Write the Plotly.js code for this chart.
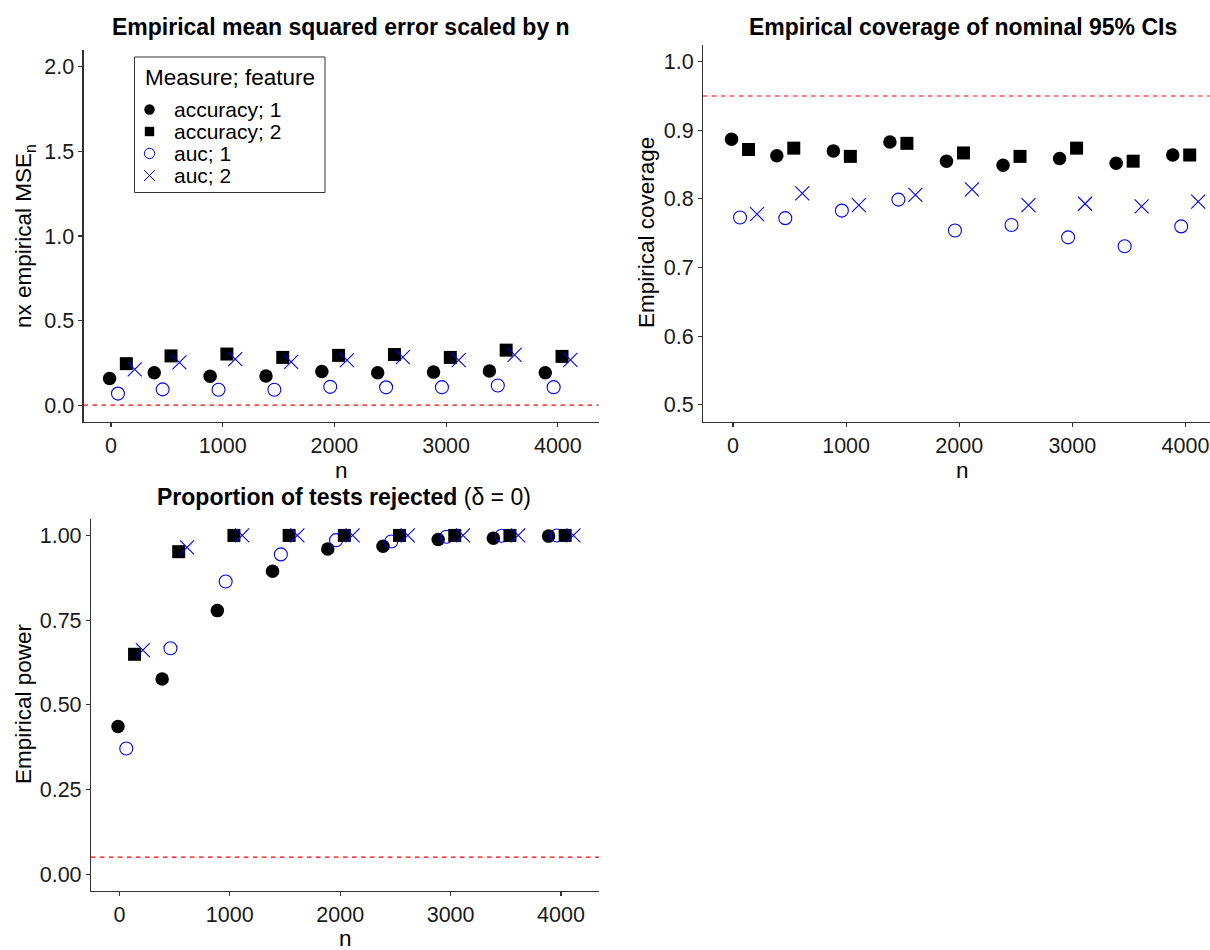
<!DOCTYPE html>
<html>
<head>
<meta charset="utf-8">
<script src="https://cdn.plot.ly/plotly-3.0.1.min.js"></script>
<style>
  html, body { margin: 0; padding: 0; background: #ffffff; }
  #chart { width: 1210px; height: 950px; }
</style>
</head>
<body>
<div id="chart"></div>
<script>
// ---- data -------------------------------------------------------------
const sampleSizes = [100, 500, 1000, 1500, 2000, 2500, 3000, 3500, 4000];
const seriesNames = ['accuracy; 1', 'accuracy; 2', 'auc; 1', 'auc; 2'];

// n x empirical MSE
const mseAccuracy1 = [0.157, 0.191, 0.171, 0.172, 0.199, 0.191, 0.195, 0.201, 0.191];
const mseAccuracy2 = [0.245, 0.291, 0.302, 0.282, 0.294, 0.299, 0.282, 0.325, 0.288];
const mseAuc1      = [0.068, 0.093, 0.091, 0.091, 0.108, 0.105, 0.106, 0.116, 0.106];
const mseAuc2      = [0.211, 0.253, 0.272, 0.256, 0.266, 0.284, 0.266, 0.297, 0.268];

// empirical coverage of nominal 95% CIs
const covAccuracy1 = [0.887, 0.863, 0.870, 0.883, 0.855, 0.849, 0.859, 0.852, 0.864];
const covAccuracy2 = [0.872, 0.874, 0.862, 0.881, 0.867, 0.862, 0.874, 0.855, 0.864];
const covAuc1      = [0.773, 0.772, 0.783, 0.799, 0.754, 0.762, 0.744, 0.731, 0.760];
const covAuc2      = [0.778, 0.808, 0.791, 0.806, 0.814, 0.791, 0.793, 0.789, 0.796];

// proportion of tests rejected
const powAccuracy1 = [0.436, 0.576, 0.778, 0.894, 0.960, 0.968, 0.988, 0.992, 0.998];
const powAccuracy2 = [0.649, 0.952, 1.000, 1.000, 1.000, 1.000, 1.000, 1.000, 1.000];
const powAuc1      = [0.371, 0.667, 0.864, 0.944, 0.986, 0.982, 0.996, 0.999, 1.000];
const powAuc2      = [0.661, 0.965, 1.000, 1.000, 1.000, 1.000, 1.000, 1.000, 1.000];

// horizontal reference lines (true value, nominal coverage, nominal level)
const referenceLines = [0, 0.95, 0.05];

const panelTitles = [
  '<b>Empirical mean squared error scaled by n</b>',
  '<b>Empirical coverage of nominal 95% CIs</b>',
  '<b>Proportion of tests rejected</b> (δ = 0)'
];
const yTitles = ['nx empirical MSE<sub>n</sub>', 'Empirical coverage', 'Empirical power'];
const xTitle = 'n';
const legendTitle = 'Measure; feature';

// ---- styling ----------------------------------------------------------
const W = 1210, H = 950;
const FONT = 'Liberation Sans, Arial, Helvetica, sans-serif';
const px = p => p / W;          // pixel -> paper x
const py = p => 1 - p / H;      // pixel -> paper y

// per-series look, in dodge order (feature 1 then 2; accuracy then auc)
const seriesStyle = {
  'accuracy; 1': { symbol: 'circle',       color: '#000000', size: 13.5, lw: 0,   dodge: -112.5 },
  'auc; 1':      { symbol: 'circle-open',  color: '#0000ff', size: 13,   lw: 1.1, dodge: -37.5 },
  'accuracy; 2': { symbol: 'square',       color: '#000000', size: 13,   lw: 0,   dodge: 37.5 },
  'auc; 2':      { symbol: 'x-thin-open',  color: '#0000ff', size: 14,   lw: 1.1, dodge: 112.5 }
};
const drawOrder = ['accuracy; 1', 'auc; 1', 'accuracy; 2', 'auc; 2'];

const panels = [
  { xa: 'x',  ya: 'y',  values: { 'accuracy; 1': mseAccuracy1, 'accuracy; 2': mseAccuracy2, 'auc; 1': mseAuc1, 'auc; 2': mseAuc2 } },
  { xa: 'x2', ya: 'y2', values: { 'accuracy; 1': covAccuracy1, 'accuracy; 2': covAccuracy2, 'auc; 1': covAuc1, 'auc; 2': covAuc2 } },
  { xa: 'x3', ya: 'y3', values: { 'accuracy; 1': powAccuracy1, 'accuracy; 2': powAccuracy2, 'auc; 1': powAuc1, 'auc; 2': powAuc2 } }
];

// ---- traces -----------------------------------------------------------
const traces = [];
panels.forEach(panel => {
  drawOrder.forEach(name => {
    const st = seriesStyle[name];
    traces.push({
      type: 'scatter',
      mode: 'markers',
      name: name,
      showlegend: false,
      xaxis: panel.xa,
      yaxis: panel.ya,
      x: sampleSizes.map(n => n + st.dodge),
      y: panel.values[name],
      marker: {
        symbol: st.symbol,
        size: st.size,
        color: st.color,
        line: { color: st.color, width: st.lw }
      },
      cliponaxis: false,
      hoverinfo: 'x+y+name'
    });
  });
});

// ---- axes -------------------------------------------------------------
const baseAxis = {
  showline: true, linecolor: '#333333', linewidth: 1.1,
  ticks: 'outside', ticklen: 4, tickwidth: 1.1, tickcolor: '#333333',
  showgrid: false, zeroline: false, fixedrange: true,
  tickfont: { family: FONT, size: 21.5, color: '#1a1a1a' }
};
const xTicks = { tickmode: 'array', tickvals: [0, 1000, 2000, 3000, 4000], ticktext: ['0', '1000', '2000', '3000', '4000'] };

const layout = {
  width: W, height: H,
  margin: { l: 0, r: 0, t: 0, b: 0 },
  paper_bgcolor: '#ffffff', plot_bgcolor: '#ffffff',
  showlegend: false,
  font: { family: FONT, color: '#000000' },
  xaxis:  Object.assign({}, baseAxis, xTicks, { domain: [px(83.5), px(598.5)], range: [-246, 4364], anchor: 'y' }),
  yaxis:  Object.assign({}, baseAxis, { domain: [py(422), py(50)], range: [-0.1, 2.1], anchor: 'x',
            tickvals: [0, 0.5, 1, 1.5, 2], tickformat: '.1f' }),
  xaxis2: Object.assign({}, baseAxis, xTicks, { domain: [px(703), 1], range: [-265, 4217], anchor: 'y2' }),
  yaxis2: Object.assign({}, baseAxis, { domain: [py(422), py(44.5)], range: [0.475, 1.025], anchor: 'x2',
            tickvals: [0.5, 0.6, 0.7, 0.8, 0.9, 1.0], tickformat: '.1f' }),
  xaxis3: Object.assign({}, baseAxis, xTicks, { domain: [px(91), px(599)], range: [-257, 4344], anchor: 'y3' }),
  yaxis3: Object.assign({}, baseAxis, { domain: [py(891), py(518.5)], range: [-0.05, 1.05], anchor: 'x3',
            tickvals: [0, 0.25, 0.5, 0.75, 1], tickformat: '.2f' }),
  shapes: [],
  annotations: []
};

// dashed reference lines across each panel
panels.forEach((panel, i) => {
  layout.shapes.push({
    type: 'line', layer: 'below',
    xref: panel.xa + ' domain', x0: 0, x1: 1,
    yref: panel.ya, y0: referenceLines[i], y1: referenceLines[i],
    line: { color: '#ff0000', width: 1.2, dash: '4.5px,4.5px' }
  });
});

// panel titles and axis titles
const titleCenters = [[341, 27.5], [963, 27.5], [344, 496.5]];
const xTitleCenters = [[341, 470], [963, 470], [345, 938.5]];
const yTitleCenters = [[25, 236], [646, 233], [23, 704]];
panels.forEach((panel, i) => {
  layout.annotations.push({
    xref: 'paper', yref: 'paper', x: px(titleCenters[i][0]), y: py(titleCenters[i][1]),
    xanchor: 'center', yanchor: 'middle', showarrow: false,
    text: panelTitles[i], font: { family: FONT, size: 23, color: '#000000' }
  });
  layout.annotations.push({
    xref: 'paper', yref: 'paper', x: px(xTitleCenters[i][0]), y: py(xTitleCenters[i][1]),
    xanchor: 'center', yanchor: 'middle', showarrow: false,
    text: xTitle, font: { family: FONT, size: 22.5, color: '#000000' }
  });
  layout.annotations.push({
    xref: 'paper', yref: 'paper', x: px(yTitleCenters[i][0]), y: py(yTitleCenters[i][1]),
    xanchor: 'center', yanchor: 'middle', showarrow: false, textangle: -90,
    text: yTitles[i], font: { family: FONT, size: 22.5, color: '#000000' }
  });
});

// ---- legend box (inside the first panel) -----------------------------
const legendBox = { left: 134.5, top: 57, right: 325, bottom: 192.5 };
const legendRows = [109.5, 131.5, 153.5, 175.5];
const keyX = 149.5, labelX = 171.5;
layout.shapes.push({
  type: 'rect', xref: 'paper', yref: 'paper',
  x0: px(legendBox.left), x1: px(legendBox.right), y0: py(legendBox.bottom), y1: py(legendBox.top),
  line: { color: '#333333', width: 1 }, fillcolor: 'rgba(255,255,255,0)'
});
layout.annotations.push({
  xref: 'paper', yref: 'paper', x: px(142.5), y: py(77),
  xanchor: 'left', yanchor: 'middle', showarrow: false,
  text: legendTitle, font: { family: FONT, size: 22.5, color: '#000000' }
});
seriesNames.forEach((name, i) => {
  const st = seriesStyle[name];
  const cy = legendRows[i];
  const r = 5.2;
  if (st.symbol === 'circle' || st.symbol === 'circle-open') {
    layout.shapes.push({
      type: 'circle', xref: 'paper', yref: 'paper',
      x0: px(keyX - r), x1: px(keyX + r), y0: py(cy + r), y1: py(cy - r),
      fillcolor: st.symbol === 'circle' ? st.color : 'rgba(0,0,0,0)',
      line: { color: st.color, width: st.symbol === 'circle' ? 0 : 1 }
    });
  } else if (st.symbol === 'square') {
    const s = 4.7;
    layout.shapes.push({
      type: 'rect', xref: 'paper', yref: 'paper',
      x0: px(keyX - s), x1: px(keyX + s), y0: py(cy + s), y1: py(cy - s),
      fillcolor: st.color, line: { width: 0 }
    });
  } else {
    const s = 5.5;
    [[-1, -1, 1, 1], [-1, 1, 1, -1]].forEach(d => {
      layout.shapes.push({
        type: 'line', xref: 'paper', yref: 'paper',
        x0: px(keyX + d[0] * s), y0: py(cy + d[1] * s), x1: px(keyX + d[2] * s), y1: py(cy + d[3] * s),
        line: { color: st.color, width: 1 }
      });
    });
  }
  layout.annotations.push({
    xref: 'paper', yref: 'paper', x: px(labelX), y: py(cy),
    xanchor: 'left', yanchor: 'middle', showarrow: false,
    text: name, font: { family: FONT, size: 21, color: '#000000' }
  });
});

Plotly.newPlot('chart', traces, layout, { displayModeBar: false, staticPlot: true });
</script>
</body>
</html>
